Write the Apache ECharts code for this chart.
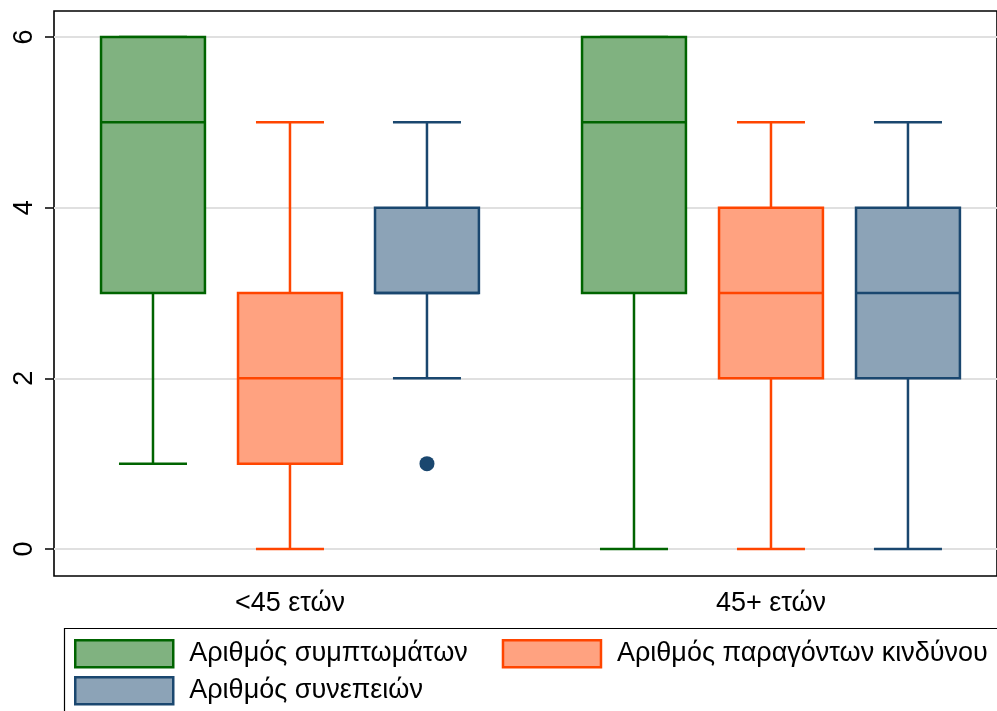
<!DOCTYPE html>
<html><head><meta charset="utf-8">
<script src="https://cdn.jsdelivr.net/npm/echarts@6/dist/echarts.min.js"></script>
<style>html,body{margin:0;padding:0;background:#fff}#c{width:997px;height:711px}</style>
</head><body><div id="c"></div>
<script>
// ---- data ----
const categories = ['<45 ετών', '45+ ετών'];
const seriesNames = ['Αριθμός συμπτωμάτων', 'Αριθμός παραγόντων κινδύνου', 'Αριθμός συνεπειών'];
// [groupIndex, min, q1, median, q3, max]
const symptoms = [[0, 1, 3, 5, 6, 6], [1, 0, 3, 5, 6, 6]];
const riskFactors = [[0, 0, 1, 2, 3, 5], [1, 0, 2, 3, 4, 5]];
const consequences = [[0, 2, 3, 3, 4, 5], [1, 0, 2, 3, 4, 5]];
// outliers of "consequences": [groupIndex, value]
const consequencesOutliers = [[0, 1]];
const yTicks = [0, 2, 4, 6];

// ---- style / layout ----
const FONT = 'Liberation Sans, Arial, sans-serif';
const OFFSETS = [-0.2848, 0, 0.2848];
const BOX_HALF = 0.108;
const CAP_HALF = 0.0707;
const LW = 2.5;
const fills = ['#80b280', '#ffa280', '#8ca3b7'];
const borders = ['#006400', '#ff4500', '#1a476f'];

function makeRender(si) {
  return function (params, api) {
    const x = api.value(0) + OFFSETS[si];
    const pMin = api.coord([x, api.value(1)]);
    const pQ1 = api.coord([x, api.value(2)]);
    const pMed = api.coord([x, api.value(3)]);
    const pQ3 = api.coord([x, api.value(4)]);
    const pMax = api.coord([x, api.value(5)]);
    const unit = api.size([1, 0])[0];
    const bh = BOX_HALF * unit, ch = CAP_HALF * unit;
    const cx = pMed[0];
    const ls = { stroke: borders[si], lineWidth: LW };
    return {
      type: 'group',
      children: [
        { type: 'line', shape: { x1: cx, y1: pQ1[1], x2: cx, y2: pMin[1] }, style: ls },
        { type: 'line', shape: { x1: cx, y1: pQ3[1], x2: cx, y2: pMax[1] }, style: ls },
        { type: 'line', shape: { x1: cx - ch, y1: pMin[1], x2: cx + ch, y2: pMin[1] }, style: ls },
        { type: 'line', shape: { x1: cx - ch, y1: pMax[1], x2: cx + ch, y2: pMax[1] }, style: ls },
        { type: 'rect', shape: { x: cx - bh, y: pQ3[1], width: 2 * bh, height: pQ1[1] - pQ3[1] },
          style: { fill: fills[si], stroke: borders[si], lineWidth: LW } },
        { type: 'line', shape: { x1: cx - bh, y1: pMed[1], x2: cx + bh, y2: pMed[1] }, style: ls }
      ]
    };
  };
}

const seriesData = [symptoms, riskFactors, consequences];
const series = seriesData.map((d, i) => ({
  type: 'custom',
  name: seriesNames[i],
  data: d,
  encode: { x: 0, y: [1, 2, 3, 4, 5] },
  itemStyle: { color: fills[i], borderColor: borders[i], borderWidth: LW },
  renderItem: makeRender(i),
  clip: false
}));
series.push({
  type: 'scatter',
  name: 'outliers',
  data: consequencesOutliers.map(o => [o[0] + OFFSETS[2], o[1]]),
  symbolSize: 15,
  itemStyle: { color: borders[2], opacity: 1 },
  z: 5
});

const legendCommon = {
  left: 74, padding: 0, itemWidth: 98, itemHeight: 27, itemGap: 34, icon: 'rect',
  textStyle: { fontSize: 27, fontFamily: FONT, color: '#000', padding: [0, 0, 0, 11] },
  selectedMode: false
};
const legendItem = i => ({ name: seriesNames[i], itemStyle: { color: fills[i], borderColor: borders[i], borderWidth: LW } });

const chart = echarts.init(document.getElementById('c'), null, { renderer: 'canvas' });
chart.setOption({
  animation: false,
  backgroundColor: '#fff',
  grid: [
    // data area: spans values 0..6
    { left: 54, top: 37, right: -3, bottom: 162, show: false },
    // plot frame
    { left: 54, top: 11, right: -3, bottom: 135, show: true, borderColor: '#000', borderWidth: 1.6, backgroundColor: 'transparent' }
  ],
  xAxis: [
    {
      gridIndex: 0, type: 'value', min: -0.4906, max: 1.4699,
      axisLine: { show: false, onZero: false }, axisTick: { show: false }, splitLine: { show: false },
      axisLabel: { customValues: [0, 1], formatter: v => categories[Math.round(v)], fontSize: 27, fontFamily: FONT, color: '#000', margin: 41 }
    },
    { gridIndex: 1, type: 'value', min: 0, max: 1, show: false }
  ],
  yAxis: [
    {
      gridIndex: 0, type: 'value', min: 0, max: 6, interval: 2,
      axisLine: { show: false, onZero: false },
      axisTick: { show: true, inside: false, length: 9, lineStyle: { color: '#000', width: 1.5 } },
      axisLabel: { rotate: 90, fontSize: 27, fontFamily: FONT, color: '#000', margin: 16 },
      splitLine: { show: true, lineStyle: { color: '#e0e0e0', width: 2 } }
    },
    { gridIndex: 1, type: 'value', min: 0, max: 1, show: false }
  ],
  legend: [
    Object.assign({ top: 639, data: [legendItem(0), legendItem(1)] }, legendCommon),
    Object.assign({ top: 676, data: [legendItem(2)] }, legendCommon)
  ],
  graphic: [{ type: 'rect', shape: { x: 64.5, y: 628.5, width: 1000, height: 200 }, style: { fill: 'none', stroke: '#000', lineWidth: 1.2 } }],
  series: series
});
</script></body></html>
